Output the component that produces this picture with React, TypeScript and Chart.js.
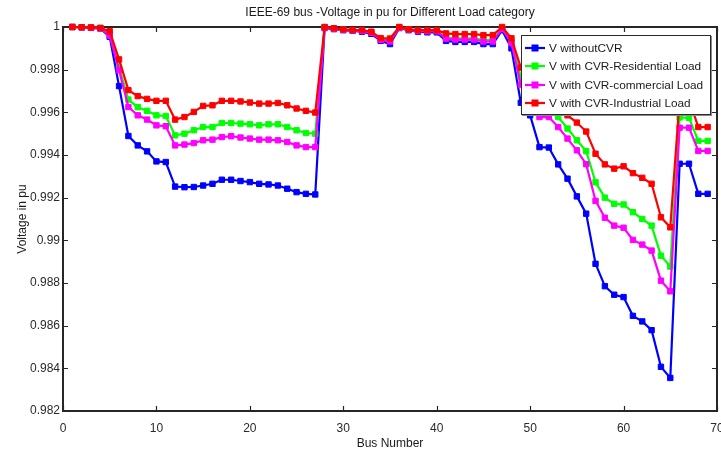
import { useEffect, useRef } from 'react';
import { Chart, registerables } from 'chart.js';

Chart.register(...registerables);

const FONT = "'Liberation Sans Narrow', 'Liberation Sans', Arial, sans-serif";

const chartTitle = 'IEEE-69 bus -Voltage in pu for Different Load category';
const xTitle = 'Bus Number';
const yTitle = 'Voltage in pu';

const busNumbers = [
  1, 2, 3, 4, 5, 6, 7, 8, 9, 10, 11, 12, 13, 14, 15, 16, 17, 18, 19, 20,
  21, 22, 23, 24, 25, 26, 27, 28, 29, 30, 31, 32, 33, 34, 35, 36, 37, 38, 39, 40,
  41, 42, 43, 44, 45, 46, 47, 48, 49, 50, 51, 52, 53, 54, 55, 56, 57, 58, 59, 60,
  61, 62, 63, 64, 65, 66, 67, 68, 69,
];

const xTickValues = [0, 10, 20, 30, 40, 50, 60, 70];
const xTickLabels = ['0', '10', '20', '30', '40', '50', '60', '70'];
const yTickValues = [0.982, 0.984, 0.986, 0.988, 0.99, 0.992, 0.994, 0.996, 0.998, 1];
const yTickLabels = ['0.982', '0.984', '0.986', '0.988', '0.99', '0.992', '0.994', '0.996', '0.998', '1'];

const seriesNames = [
  'V withoutCVR',
  'V with CVR-Residential Load',
  'V with CVR-commercial Load',
  'V with CVR-Industrial Load',
];
const seriesColors = ['#0000ff', '#00ff00', '#ff00ff', '#ff0000'];

const vWithoutCVR = [
  1.0, 0.99998, 0.99996, 0.99993, 0.99954, 0.99723, 0.99489, 0.99445, 0.99417, 0.9937,
  0.99367, 0.99252, 0.99249, 0.9925, 0.99257, 0.99265, 0.99284, 0.99284, 0.99278, 0.99273,
  0.99265, 0.99262, 0.99257, 0.99242, 0.99226, 0.99218, 0.99215, 0.99995, 0.9999, 0.99985,
  0.99982, 0.99978, 0.99968, 0.99935, 0.9992, 0.99995, 0.99985, 0.99978, 0.99975, 0.99975,
  0.99935, 0.9993, 0.9993, 0.9993, 0.9992, 0.9992, 0.99985, 0.999, 0.99645, 0.99586,
  0.99437, 0.99435, 0.99356, 0.99289, 0.99206, 0.99125, 0.9889, 0.98785, 0.98745, 0.98734,
  0.98646, 0.9862, 0.98579, 0.98407, 0.98355, 0.99359, 0.99359, 0.99218, 0.99218,
];

const vResidential = [
  1.0, 0.99998, 0.99997, 0.99995, 0.99965, 0.9981, 0.9966, 0.99624, 0.99607, 0.99586,
  0.99583, 0.99492, 0.995, 0.99516, 0.99531, 0.99531, 0.9955, 0.9955, 0.99547, 0.99544,
  0.99539, 0.99544, 0.99544, 0.99531, 0.99516, 0.99503, 0.995, 0.99998, 0.99993, 0.99988,
  0.99985, 0.99984, 0.99975, 0.99943, 0.99938, 0.99998, 0.99988, 0.99983, 0.99982, 0.99982,
  0.9995, 0.99947, 0.99947, 0.99947, 0.9994, 0.9994, 0.99994, 0.99932, 0.99765, 0.9971,
  0.9962, 0.99618, 0.99578, 0.99524, 0.99469, 0.99418, 0.99272, 0.992, 0.99171, 0.99168,
  0.99132, 0.991, 0.99069, 0.98928, 0.98877, 0.99576, 0.99574, 0.99466, 0.99466,
];

const vCommercial = [
  1.0, 0.99998, 0.99996, 0.99994, 0.9996, 0.99798, 0.99625, 0.99586, 0.99566, 0.99539,
  0.99535, 0.99445, 0.99449, 0.99456, 0.99469, 0.99472, 0.99484, 0.99488, 0.99482, 0.99477,
  0.99472, 0.99472, 0.99469, 0.99461, 0.99445, 0.99437, 0.99437, 0.99997, 0.99992, 0.99987,
  0.99984, 0.99982, 0.99973, 0.9994, 0.99932, 0.99997, 0.99987, 0.99981, 0.9998, 0.9998,
  0.99945, 0.99941, 0.99941, 0.99941, 0.99932, 0.99932, 0.99992, 0.99925, 0.9973, 0.9967,
  0.99578, 0.99578, 0.99531, 0.99477, 0.99422, 0.99357, 0.99185, 0.99106, 0.99069, 0.99059,
  0.99002, 0.9898, 0.98952, 0.98811, 0.98761, 0.99528, 0.99528, 0.99419, 0.99419,
];

const vIndustrial = [
  1.0, 0.99999, 0.99998, 0.99996, 0.9998, 0.99848, 0.99704, 0.99676, 0.99663, 0.99654,
  0.99654, 0.99566, 0.99578, 0.99602, 0.9963, 0.99633, 0.99654, 0.99654, 0.99651, 0.99646,
  0.99641, 0.99641, 0.99644, 0.99633, 0.99618, 0.99607, 0.99599, 1.0, 0.99994, 0.99989,
  0.99986, 0.99986, 0.99978, 0.99948, 0.99946, 1.0, 0.99989, 0.99985, 0.99985, 0.99985,
  0.9997, 0.99967, 0.99967, 0.99967, 0.99962, 0.99962, 1.0, 0.99947, 0.9981, 0.9975,
  0.99665, 0.99663, 0.99625, 0.99586, 0.99552, 0.9951, 0.99406, 0.99356, 0.99336, 0.99347,
  0.99315, 0.99293, 0.99265, 0.99108, 0.99061, 0.9966, 0.9966, 0.99531, 0.99531,
];

const seriesValues = [vWithoutCVR, vResidential, vCommercial, vIndustrial];
const seriesOrder = [4, 3, 2, 1];

const framePlugin = {
  id: 'matlabFrame',
  beforeDatasetsDraw(chart: any) {
    const { ctx, chartArea, scales } = chart;
    const { left, right, top, bottom } = chartArea;
    const x = scales.x;
    const y = scales.y;
    ctx.save();
    ctx.strokeStyle = '#262626';
    ctx.lineWidth = 1.2;
    ctx.beginPath();
    xTickValues.forEach((v) => {
      const px = Math.round(x.getPixelForValue(v)) + 0.5;
      ctx.moveTo(px, bottom);
      ctx.lineTo(px, bottom - 5);
      ctx.moveTo(px, top);
      ctx.lineTo(px, top + 5);
    });
    yTickValues.forEach((v) => {
      const py = Math.round(y.getPixelForValue(v)) + 0.5;
      ctx.moveTo(left, py);
      ctx.lineTo(left + 5, py);
      ctx.moveTo(right, py);
      ctx.lineTo(right - 5, py);
    });
    ctx.stroke();
    ctx.lineWidth = 2;
    ctx.strokeRect(left, top, right - left, bottom - top);
    ctx.restore();
  },
};

function LegendBox() {
  return (
    <div
      style={{
        position: 'absolute',
        left: 521,
        top: 35,
        width: 188,
        height: 75,
        background: '#fff',
        border: '1.5px solid #2a2a2a',
        boxShadow: '1px 1px 0 #888',
        paddingTop: 3,
        boxSizing: 'content-box',
        fontFamily: FONT,
        fontSize: 11.8,
        color: '#1a1a1a',
      }}
    >
      {seriesNames.map((name, i) => (
        <div key={name} style={{ display: 'flex', alignItems: 'center', height: 18.3, whiteSpace: 'nowrap' }}>
          <svg width={22} height={10} style={{ marginLeft: 3, marginRight: 2, flex: 'none' }}>
            <line x1={0} y1={5} x2={20} y2={5} stroke={seriesColors[i]} strokeWidth={2.2} />
            <rect x={6.5} y={1.5} width={7} height={7} fill={seriesColors[i]} />
          </svg>
          <span>{name}</span>
        </div>
      ))}
    </div>
  );
}

export default function App() {
  const canvasRef = useRef<HTMLCanvasElement | null>(null);

  useEffect(() => {
    document.body.style.margin = '0';
    const canvas = canvasRef.current;
    if (!canvas) return;
    const tickFont = { family: FONT, size: 12, lineHeight: 1.2 };
    const chart = new Chart(canvas, {
      type: 'line',
      data: {
        datasets: seriesValues.map((vals, i) => ({
          label: seriesNames[i],
          data: vals.map((v, j) => ({ x: busNumbers[j], y: v })),
          borderColor: seriesColors[i],
          backgroundColor: seriesColors[i],
          borderWidth: 2.2,
          pointStyle: 'rect',
          pointRadius: 3.8,
          pointBorderWidth: 1,
          pointBorderColor: seriesColors[i],
          pointBackgroundColor: seriesColors[i],
          tension: 0,
          fill: false,
          clip: false,
          order: seriesOrder[i],
        })),
      },
      options: {
        animation: false,
        responsive: false,
        devicePixelRatio: 1,
        layout: { padding: { left: 0, right: 23, top: 0, bottom: 0 } },
        plugins: {
          legend: { display: false },
          tooltip: { enabled: false },
          title: {
            display: true,
            text: chartTitle,
            fullSize: false,
            color: '#1a1a1a',
            font: { family: FONT, size: 12, weight: 'normal', lineHeight: 1.2 },
            padding: { top: 5, bottom: 7.6 },
          },
        },
        scales: {
          x: {
            type: 'linear',
            min: 0,
            max: 70,
            afterBuildTicks: (s: any) => {
              s.ticks = xTickValues.map((v) => ({ value: v }));
            },
            afterFit: (s: any) => {
              s.height = 41;
            },
            ticks: {
              autoSkip: false,
              maxRotation: 0,
              padding: 10,
              color: '#2a2a2a',
              font: tickFont,
              callback: (v: any) => xTickLabels[xTickValues.indexOf(Number(v))] ?? '',
            },
            grid: { display: false, drawTicks: false },
            border: { display: false },
            title: {
              display: true,
              text: xTitle,
              color: '#1a1a1a',
              font: tickFont,
              padding: { top: 0, bottom: 1 },
            },
          },
          y: {
            type: 'linear',
            min: 0.982,
            max: 1,
            afterBuildTicks: (s: any) => {
              s.ticks = yTickValues.map((v) => ({ value: v }));
            },
            afterFit: (s: any) => {
              s.width = 63;
            },
            ticks: {
              autoSkip: false,
              padding: 3,
              color: '#2a2a2a',
              font: tickFont,
              callback: (v: any) => {
                const idx = yTickValues.findIndex((t) => Math.abs(t - Number(v)) < 1e-7);
                return idx >= 0 ? yTickLabels[idx] : '';
              },
            },
            grid: { display: false, drawTicks: false },
            border: { display: false },
            title: {
              display: true,
              text: yTitle,
              color: '#1a1a1a',
              font: tickFont,
              padding: { top: 15, bottom: 0 },
            },
          },
        },
      },
      plugins: [framePlugin],
    } as any);
    return () => chart.destroy();
  }, []);

  return (
    <div
      style={{
        position: 'fixed',
        left: 0,
        top: 0,
        width: 721,
        height: 452,
        overflow: 'hidden',
        background: '#fff',
      }}
    >
      <canvas ref={canvasRef} width={740} height={452} style={{ display: 'block', width: 740, height: 452 }} />
      <LegendBox />
    </div>
  );
}
